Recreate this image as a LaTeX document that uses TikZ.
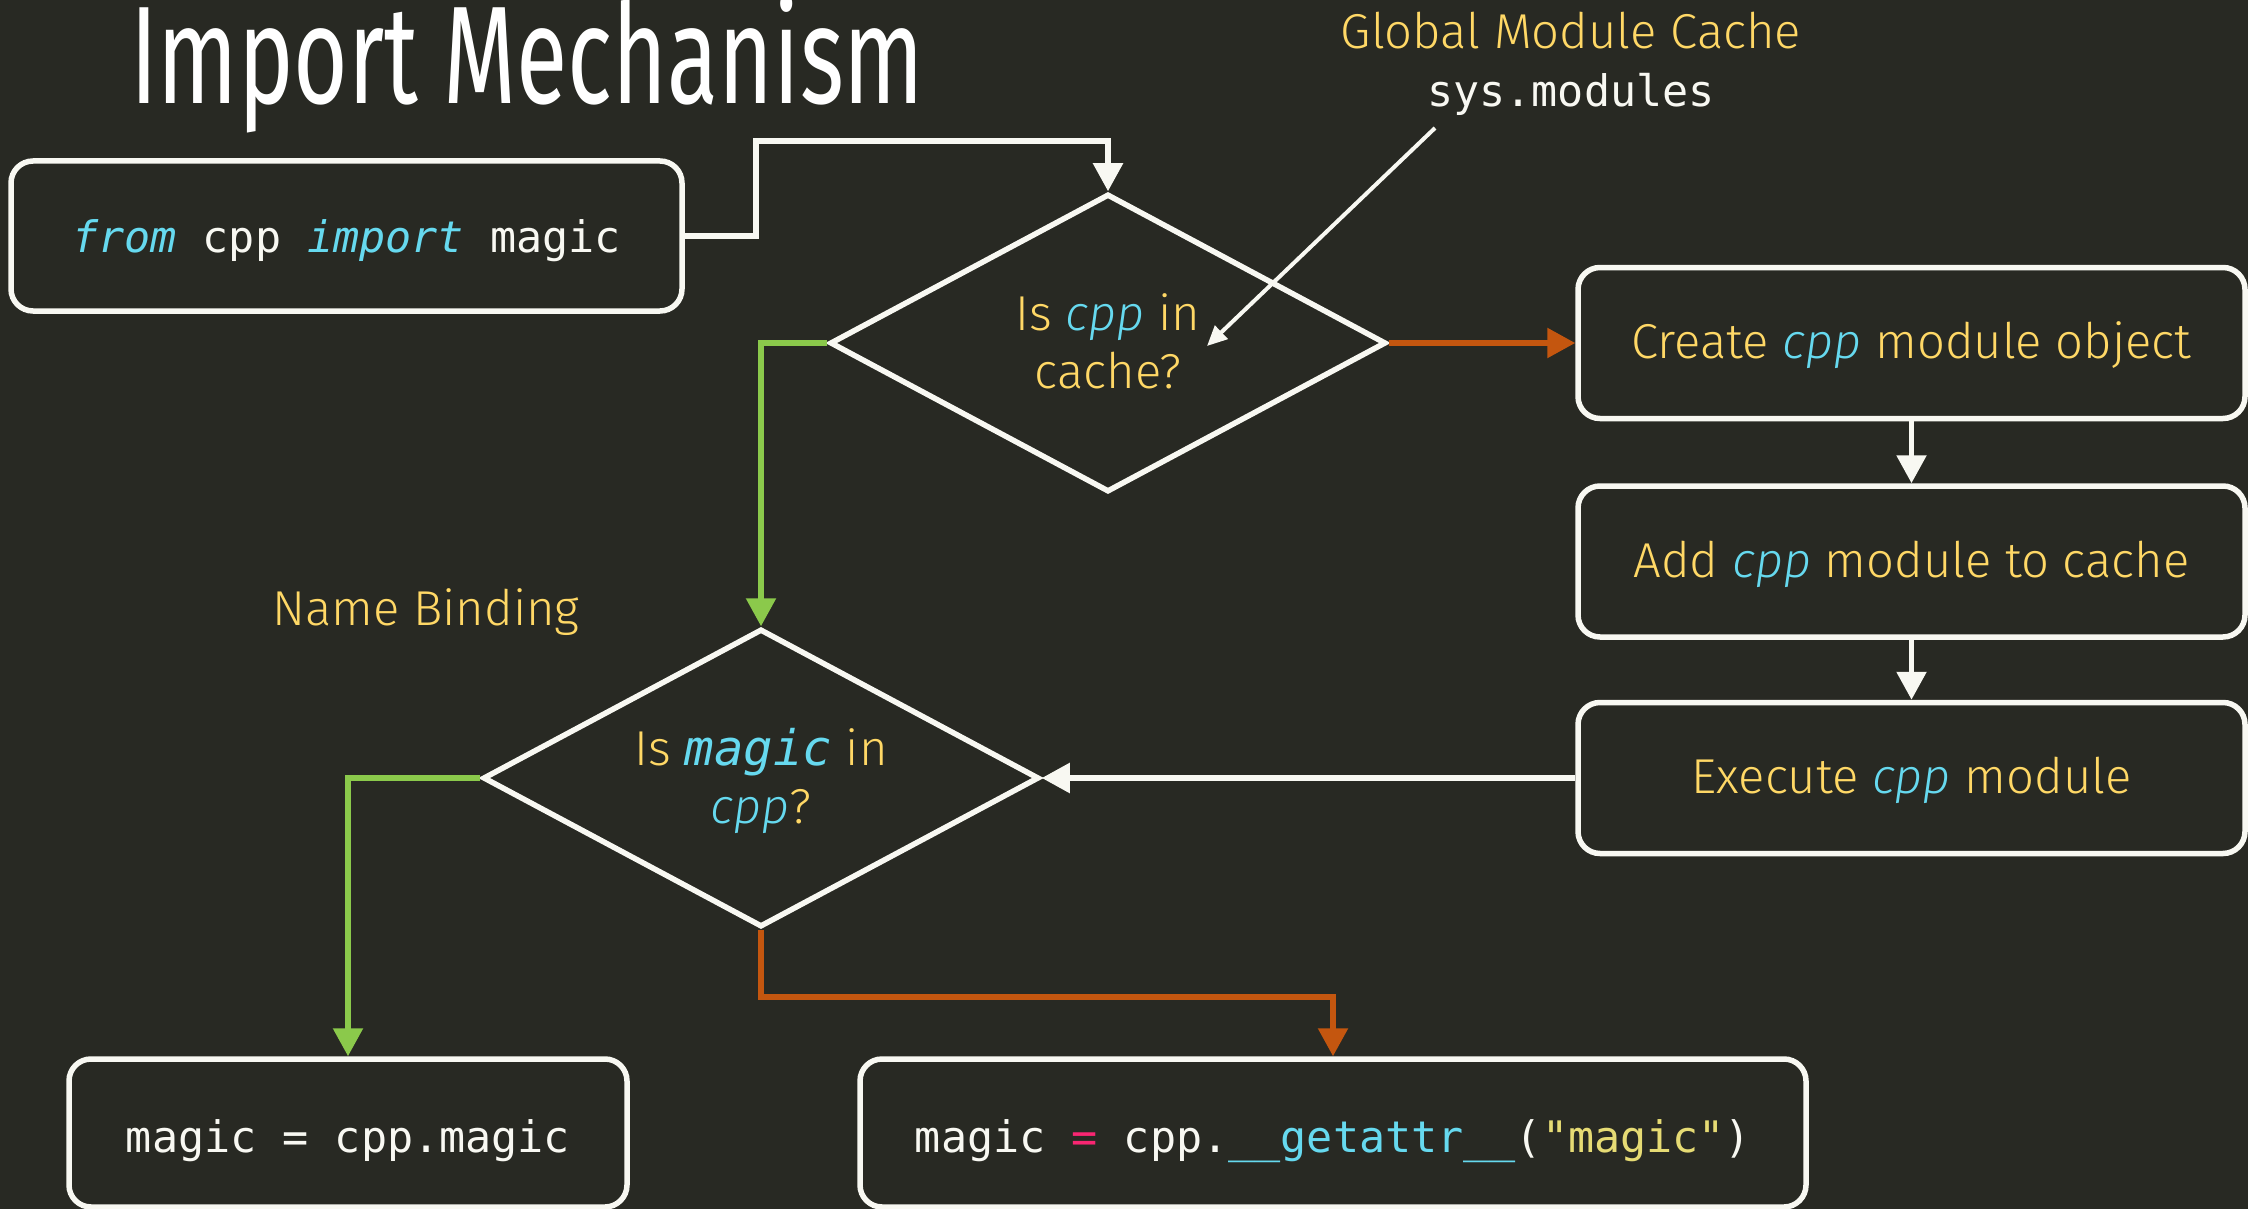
\documentclass[tikz,border=0pt]{standalone}
\usepackage{fontspec}
\usepackage{graphicx}
\usetikzlibrary{shapes.geometric,arrows.meta,calc}
\setmainfont{Fira Sans}[UprightFont=* Light, ItalicFont=* Light Italic]
\newfontfamily\titlefont{Fira Sans}
\setmonofont{DejaVu Sans Mono}

\definecolor{bg}{HTML}{282923}
\definecolor{fg}{HTML}{F8F8F2}
\definecolor{lab}{HTML}{FFD866}
\definecolor{kw}{HTML}{66D9EF}
\definecolor{str}{HTML}{E6DB74}
\definecolor{op}{HTML}{F92672}
\definecolor{yes}{HTML}{8BC94B}
\definecolor{no}{HTML}{C4560F}

\newcommand\cppname{\textcolor{kw}{\textit{cpp}}}
\newcommand\labfont{\fontsize{49}{58}\selectfont}
\newcommand\codefont{\ttfamily\fontsize{43.4}{52}\selectfont}

\tikzset{
  box/.style={draw=fg, line width=5.5pt, rounded corners=22pt, fill=bg, inner sep=0pt},
  stepbox/.style={box, minimum width=667pt, minimum height=151pt,
    text height=40pt, text depth=9pt, font=\labfont, text=lab},
  codebox/.style={box, minimum height=148pt, text height=46pt, text depth=8pt,
    font=\codefont, text=fg},
  decision/.style={diamond, draw=fg, line width=5.5pt, minimum width=556pt,
    minimum height=298pt, inner sep=0pt, fill=bg},
  labtext/.style={inner sep=0pt, font=\labfont, text=lab, anchor=base},
  conn/.style={line width=5.5pt, -{Triangle[width=29pt,length=28pt]}},
  pointer/.style={draw=fg, line width=4pt, -{Triangle[width=18pt,length=20pt]}},
}

\begin{document}
\begin{tikzpicture}[x=1pt, y=-1pt]
  \fill[bg] (0,0) rectangle (2248,1209);
  \useasboundingbox (0,0) rectangle (2248,1209);

  % heading
  \node[anchor=base west, inner sep=0pt, text=white,
        font=\titlefont\fontsize{139}{150}\selectfont] (title) at (130,104)
        {\resizebox{794pt}{\height}{Import Mechanism}};

  % cache annotation
  \node[labtext] (gmc) at (1571,49) {Global Module Cache};
  \node[inner sep=0pt, anchor=base, font=\codefont, text=fg] (sysm) at (1571,107) {sys.modules};
  \node[labtext] (nb) at (426,625) {Name Binding};

  % import statement
  \node[box, minimum width=671pt, minimum height=150pt, text height=40pt,
        text depth=8pt, font=\codefont, text=fg] (imp) at (346.5,236)
        {\textcolor{kw}{\textit{from}} cpp \textcolor{kw}{\textit{import}} magic};

  % decisions
  \node[decision] (d1) at (1108,343) {};
  \node[labtext] (q1a) at ($(d1)+(0,-13)$) {Is \cppname{} in};
  \node[labtext] (q1b) at ($(d1)+(0,45)$) {cache?};

  \node[decision] (d2) at (761,778) {};
  \node[labtext] (q2a) at ($(d2)+(0,-13)$) {Is \textcolor{kw}{\ttfamily\itshape magic} in};
  \node[labtext] (q2b) at ($(d2)+(0,45)$) {\cppname?};

  % module loading steps
  \node[stepbox] (create) at (1911.5,343) {Create \cppname{} module object};
  \node[stepbox] (add) at (1911.5,561.5) {Add \cppname{} module to cache};
  \node[stepbox] (exec) at (1911.5,778) {Execute \cppname{} module};

  % name binding results
  \node[codebox, minimum width=558pt] (bind) at (348,1133) {magic = cpp.magic};
  \node[codebox, minimum width=946pt] (ga) at (1333,1133)
        {magic \textcolor{op}{=} cpp.\textcolor{kw}{\_\_getattr\_\_}(\textcolor{str}{"magic"})};

  % connectors
  \coordinate (c1) at (756,141);
  \draw[conn, draw=fg] (imp.east) -| (c1) -| (d1.north);
  \draw[conn, draw=yes] (d1.west) -| (d2.north);
  \draw[conn, draw=no] (d1.east) -- (create.west);
  \draw[conn, draw=fg] (create.south) -- (add.north);
  \draw[conn, draw=fg] (add.south) -- (exec.north);
  \draw[conn, draw=fg] (exec.west) -- (d2.east);
  \draw[conn, draw=yes] (d2.west) -| (bind.north);
  \draw[conn, draw=no] (d2.south) -- ++(0,67) -| (ga.north);

  % pointer from the cache label into the first decision
  \coordinate (p0) at (1435,128);
  \coordinate (p1) at (1207,346);
  \draw[pointer] (p0) -- (p1);
\end{tikzpicture}
\end{document}
